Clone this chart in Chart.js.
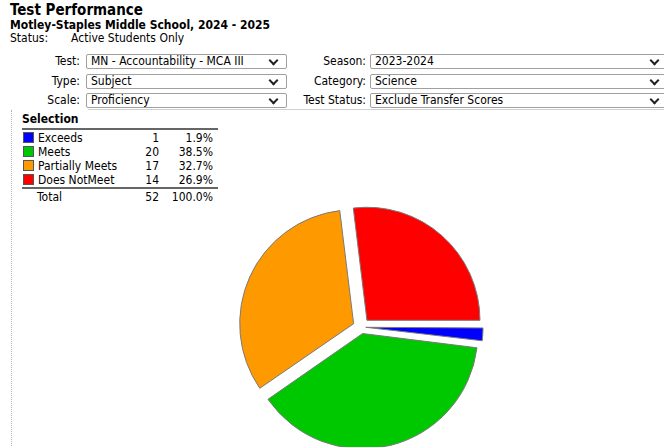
<!DOCTYPE html>
<html>
<head>
<meta charset="utf-8">
<script src="https://cdn.jsdelivr.net/npm/chart.js@4/dist/chart.umd.min.js"></script>
<style>
  html, body { margin: 0; padding: 0; width: 664px; height: 447px; overflow: hidden; background: #fff; }
  body { font-family: "DejaVu Sans Condensed", "Liberation Sans", sans-serif; color: #000; position: relative; }
  .abs { position: absolute; white-space: nowrap; }
  #title { left: 10px; top: 1px; font-size: 15px; font-weight: bold; }
  #school { left: 10px; top: 18px; font-size: 12px; font-weight: bold; }
  #status { left: 10px; top: 31px; font-size: 12px; }
  .lbl { font-size: 12px; text-align: right; }
  .sel { height: 13px; border: 1px solid #a0a0a0; border-radius: 2px; font-size: 12px; line-height: 13px; padding-left: 4px; box-sizing: content-box; }
  .sel .arr { position: absolute; right: 9px; top: 2px; width: 5px; height: 5px; border-right: 2px solid #222; border-bottom: 2px solid #222; transform: rotate(45deg); }
  #panelTop { left: 88px; top: 109px; width: 580px; height: 0; border-top: 1px solid #d0d0d0; }
  #vline { left: 11px; top: 110px; width: 0; height: 340px; border-left: 1px dotted #b0b0b0; }
  #legend { left: 22px; top: 113px; font-size: 12px; border-collapse: collapse; }
  #legend td { padding: 0; height: 14px; line-height: 14px; }
  #legend .hd { font-weight: bold; border-bottom: 2px solid #666; height: 15px; line-height: 13px; vertical-align: top; }
  #legend .sw { display: inline-block; width: 9px; height: 9px; border: 1px solid #555; vertical-align: -1px; margin-right: 4px; margin-left: 1px; }
  #legend .num { text-align: right; }
  #legend .pct { padding-right: 5px; }
  #legend .first td { padding-top: 1px; }
  #legend .tot td { border-top: 2px solid #666; padding-top: 1px; }
  #pie { left: 211px; top: 177px; }
</style>
</head>
<body>
<div id="title" class="abs">Test Performance</div>
<div id="school" class="abs">Motley-Staples Middle School, 2024 - 2025</div>
<div id="status" class="abs">Status:<span style="display:inline-block;width:23px"></span>Active Students Only</div>
<div id="filters"></div>
<div id="panelTop" class="abs"></div>
<div id="vline" class="abs"></div>
<table id="legend" class="abs"></table>
<canvas id="pie" class="abs" width="300" height="300"></canvas>
<script>
// filter labels / values shown above the chart
const leftLabels = ["Test:", "Type:", "Scale:"];
const leftValues = ["MN - Accountability - MCA III", "Subject", "Proficiency"];
const rightLabels = ["Season:", "Category:", "Test Status:"];
const rightValues = ["2023-2024", "Science", "Exclude Transfer Scores"];

// chart data
const categories = ["Exceeds", "Meets", "Partially Meets", "Does NotMeet"];
const counts = [1, 20, 17, 14];
const colors = ["#0000FF", "#00C800", "#FF9900", "#FF0000"];

function addFilter(label, value, labelRight, boxLeft, boxWidth, top) {
  const f = document.getElementById("filters");
  const l = document.createElement("div");
  l.className = "abs lbl";
  l.style.left = (labelRight - 120) + "px";
  l.style.width = "120px";
  l.style.top = top + "px";
  l.textContent = label;
  f.appendChild(l);
  const b = document.createElement("div");
  b.className = "abs sel";
  b.style.left = boxLeft + "px";
  b.style.top = top + "px";
  b.style.width = boxWidth + "px";
  b.textContent = value;
  const a = document.createElement("span");
  a.className = "arr";
  b.appendChild(a);
  f.appendChild(b);
}

const rowTops = [54, 73.5, 93];
leftLabels.forEach((l, i) => addFilter(l, leftValues[i], 80, 86, 195, rowTops[i]));
rightLabels.forEach((l, i) => addFilter(l, rightValues[i], 366, 370, 292, rowTops[i]));

// selection table
const total = counts.reduce((a, b) => a + b, 0);
const tbl = document.getElementById("legend");
let html = '<tr><td class="hd" colspan="3">Selection</td></tr>';
categories.forEach((c, i) => {
  const pct = (counts[i] / total * 100).toFixed(1) + "%";
  html += `<tr${i === 0 ? ' class="first"' : ""}><td style="width:112px"><span class="sw" style="background:${colors[i]}"></span>${c}</td>` +
    `<td class="num" style="width:25px">${counts[i]}</td><td class="num pct" style="width:54px">${pct}</td></tr>`;
});
html += `<tr class="tot"><td style="padding-left:15px">Total</td><td class="num">${total}</td><td class="num pct">100.0%</td></tr>`;
tbl.innerHTML = html;

// explode every slice by the same distance (Chart.js pushes thin slices further)
const explode = 9;
function sliceOffset(c) {
  const circ = (c.parsed / total) * Math.PI * 2;
  const fix = 1 - Math.sin(Math.min(Math.PI, circ));
  return (explode * 4) / (1 + fix);
}

// pie chart
const ctx = document.getElementById("pie").getContext("2d");
window.pieChart = new Chart(ctx, {
  type: "pie",
  data: {
    labels: categories,
    datasets: [
      {
        data: counts,
        backgroundColor: colors,
        borderColor: "#7a7a7a",
        borderWidth: 1,
        offset: sliceOffset,
        hoverOffset: 0,
      },
    ],
  },
  options: {
    responsive: false,
    animation: false,
    rotation: 90,
    radius: 113,
    layout: { padding: 0 },
    plugins: {
      legend: { display: false },
      tooltip: { enabled: false },
    },
  },
});
</script>
</body>
</html>
